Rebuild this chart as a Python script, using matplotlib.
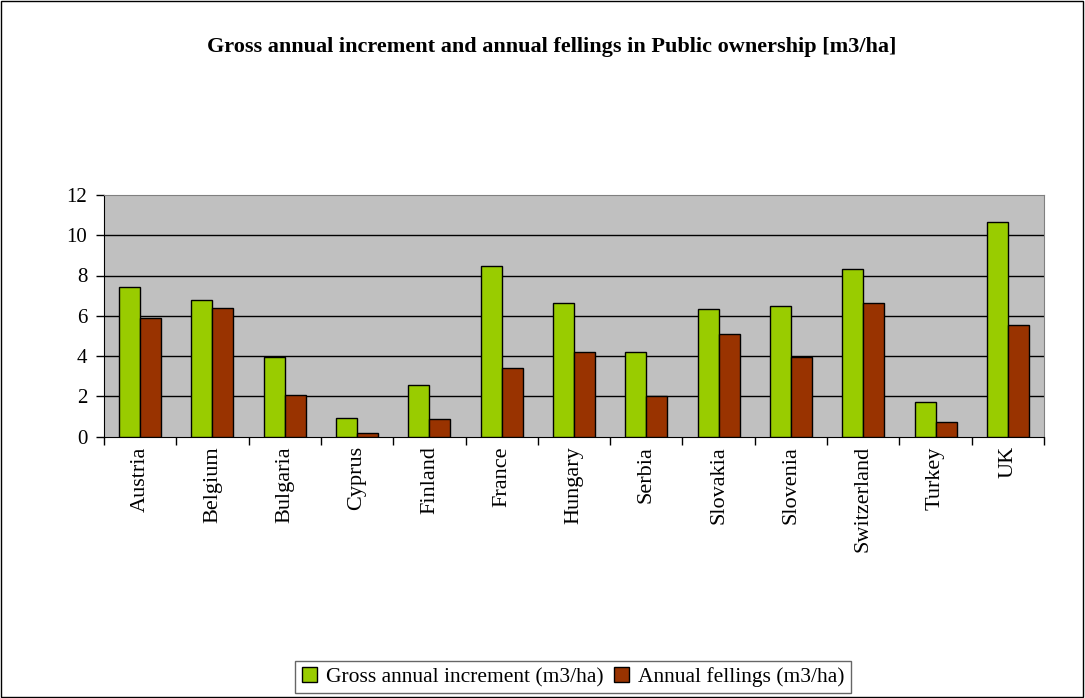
import matplotlib.pyplot as plt
import numpy as np

plt.rcParams['font.family'] = ['Liberation Serif', 'DejaVu Serif']

countries = ['Austria', 'Belgium', 'Bulgaria', 'Cyprus', 'Finland', 'France',
             'Hungary', 'Serbia', 'Slovakia', 'Slovenia', 'Switzerland',
             'Turkey', 'UK']
increment = [7.43, 6.76, 3.94, 0.94, 2.57, 8.45, 6.61, 4.18, 6.32, 6.46,
             8.30, 1.69, 10.67]
fellings = [5.88, 6.40, 2.06, 0.15, 0.88, 3.38, 4.18, 1.99, 5.07, 3.96,
            6.61, 0.73, 5.52]
yticks = [0, 2, 4, 6, 8, 10, 12]

fig = plt.figure(figsize=(10.85, 6.98), dpi=100)
# outer chart border
fig.patches.append(plt.Rectangle((0.001, 0.001), 0.997, 0.997, transform=fig.transFigure,
                                 fill=False, edgecolor='black', linewidth=1))

ax = fig.add_axes([104 / 1085, 1 - 436.5 / 698, 940 / 1085, 241.5 / 698])
ax.set_facecolor('#C0C0C0')

x = np.arange(len(countries))
w = 0.29
ax.bar(x - w / 2, increment, w, color='#99CC00', edgecolor='black', linewidth=1,
       label='Gross annual increment (m3/ha)', zorder=3)
ax.bar(x + w / 2, fellings, w, color='#993300', edgecolor='black', linewidth=1,
       label='Annual fellings (m3/ha)', zorder=3)

ax.set_xlim(-0.5, len(countries) - 0.5)
ax.set_ylim(0, 12)
ax.set_yticks(yticks)
ax.set_yticklabels([str(v) for v in yticks], fontsize=15)
for v in yticks[1:-1]:
    ax.axhline(v, color='black', linewidth=1, zorder=1)

# ticks between categories, labels centred under each group
ax.set_xticks(np.arange(len(countries) + 1) - 0.5)
ax.set_xticklabels([])
ax.set_xticks(x, minor=True)
ax.set_xticklabels(countries, minor=True, rotation=90, fontsize=16)
ax.tick_params(axis='x', which='minor', length=0, pad=7)
ax.tick_params(axis='x', which='major', direction='out', length=6, width=1)
ax.tick_params(axis='y', direction='out', length=6, width=1, pad=6)

for side in ['top', 'right']:
    ax.spines[side].set_color('#808080')
for side in ['left', 'bottom']:
    ax.spines[side].set_color('black')

fig.text(552 / 1085, 1 - 47 / 698, 'Gross annual increment and annual fellings in Public ownership [m3/ha]',
         ha='center', va='center', fontsize=16, fontweight='bold')

leg = fig.legend(loc='center', bbox_to_anchor=(573 / 1085, 1 - 677 / 698), ncol=2,
                 fontsize=15.5, frameon=True, fancybox=False, edgecolor='#404040',
                 handlelength=0.7, handleheight=0.7, handletextpad=0.4,
                 columnspacing=0.5, borderpad=0.3)
leg.get_frame().set_linewidth(1)

fig.savefig('out.png', dpi=100)
